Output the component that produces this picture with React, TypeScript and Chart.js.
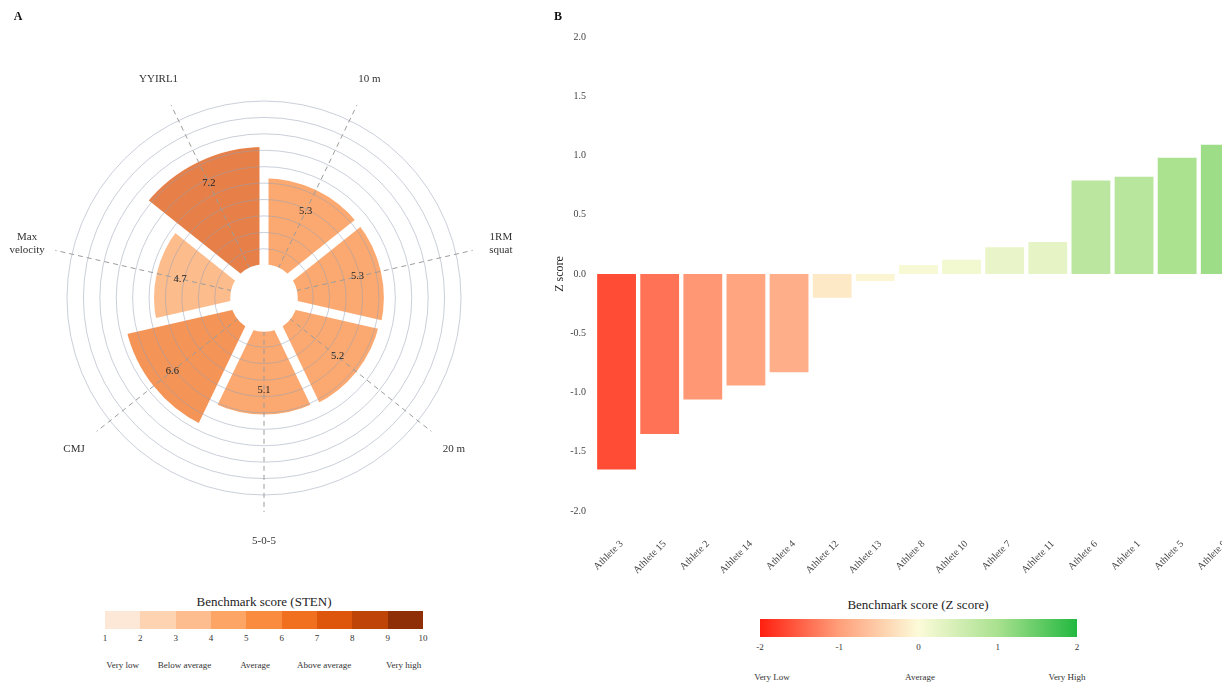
import React, { useEffect, useRef } from 'react';
import { Chart, registerables } from 'chart.js';

Chart.register(...registerables);

const SERIF = "'Liberation Serif', 'DejaVu Serif', serif";

// ---------- Panel A data (STEN) ----------
const POLAR_LABELS = ['10 m', '1RM\nsquat', '20 m', '5-0-5', 'CMJ', 'Max\nvelocity', 'YYIRL1'];
const POLAR_VALUES = [5.3, 5.3, 5.2, 5.1, 6.6, 4.7, 7.2];
const STEN_SCALE_MIN = -2;
const STEN_SCALE_MAX = 10;
const STEN_TICKS = [1, 2, 3, 4, 5, 6, 7, 8, 9, 10];
const STEN_COLORS = ['#fde7d6', '#fdd3b2', '#fdbd8e', '#fca565', '#fa8c40', '#f0701f', '#de560b', '#bf4408', '#8f2f08'];
const STEN_BANDS = ['Very low', 'Below average', 'Average', 'Above average', 'Very high'];
const STEN_BAND_POS = [1.5, 3.25, 5.25, 7.2, 9.45];

// ---------- Panel B data (Z score) ----------
const ATHLETES = ['Athlete 3', 'Athlete 15', 'Athlete 2', 'Athlete 14', 'Athlete 4', 'Athlete 12', 'Athlete 13', 'Athlete 8', 'Athlete 10', 'Athlete 7', 'Athlete 11', 'Athlete 6', 'Athlete 1', 'Athlete 5', 'Athlete 9'];
const Z_VALUES = [-1.65, -1.35, -1.06, -0.94, -0.83, -0.2, -0.06, 0.075, 0.12, 0.225, 0.27, 0.79, 0.82, 0.98, 1.09];
const Z_TICKS = [-2, -1, 0, 1, 2];
const Z_STOPS = ['#ff1f10', '#ff9f7a', '#fcfbd9', '#a9e18f', '#22b83f'];
const Z_BANDS = ['Very Low', 'Average', 'Very High'];

function hexToRgb(h: string) {
  const n = parseInt(h.slice(1), 16);
  return [(n >> 16) & 255, (n >> 8) & 255, n & 255];
}
function stenColor(v: number, a: number) {
  const idx = Math.max(0, Math.min(STEN_COLORS.length - 1, Math.floor(v) - 1));
  const [r, g, b] = hexToRgb(STEN_COLORS[idx]);
  return `rgba(${r},${g},${b},${a})`;
}
function zColor(v: number) {
  const t = Math.max(0, Math.min(Z_STOPS.length - 1, v - Z_TICKS[0]));
  const i = Math.min(Z_STOPS.length - 2, Math.floor(t));
  const f = t - i;
  const a = hexToRgb(Z_STOPS[i]);
  const b = hexToRgb(Z_STOPS[i + 1]);
  const c = a.map((x, k) => Math.round(x + (b[k] - x) * f));
  return `rgb(${c[0]},${c[1]},${c[2]})`;
}

const polarDecor = {
  id: 'polarDecor',
  afterDatasetsDraw(chart: any) {
    // white gaps between the wedges (drawn before the grid layer)
    const ctx = chart.ctx;
    const scale = chart.scales.r;
    const cx = scale.xCenter;
    const cy = scale.yCenter;
    const R = scale.drawingArea;
    const arcs = chart.getDatasetMeta(0).data;
    ctx.save();
    ctx.strokeStyle = '#ffffff';
    ctx.lineWidth = 9;
    ctx.lineCap = 'butt';
    arcs.forEach((a: any) => {
      const ang = a.startAngle;
      ctx.beginPath();
      ctx.moveTo(cx, cy);
      ctx.lineTo(cx + Math.cos(ang) * (R + 2), cy + Math.sin(ang) * (R + 2));
      ctx.stroke();
    });
    ctx.restore();
  },
  afterDraw(chart: any) {
    const ctx = chart.ctx;
    const scale = chart.scales.r;
    const cx = scale.xCenter;
    const cy = scale.yCenter;
    const R = scale.drawingArea;
    const r0 = scale.getDistanceFromCenterForValue(0);
    const arcs = chart.getDatasetMeta(0).data;
    ctx.save();
    // dashed spokes
    ctx.setLineDash([5, 4]);
    ctx.strokeStyle = '#9c9c9c';
    ctx.lineWidth = 1;
    arcs.forEach((a: any) => {
      const mid = (a.startAngle + a.endAngle) / 2;
      ctx.beginPath();
      ctx.moveTo(cx + Math.cos(mid) * r0, cy + Math.sin(mid) * r0);
      ctx.lineTo(cx + Math.cos(mid) * (R + 17), cy + Math.sin(mid) * (R + 17));
      ctx.stroke();
    });
    ctx.setLineDash([]);
    // hole
    ctx.fillStyle = '#ffffff';
    ctx.beginPath();
    ctx.arc(cx, cy, r0 + 1, 0, Math.PI * 2);
    ctx.fill();
    // value labels
    ctx.fillStyle = '#222';
    ctx.font = `10.5px ${SERIF}`;
    ctx.textAlign = 'center';
    ctx.textBaseline = 'middle';
    arcs.forEach((a: any, i: number) => {
      const mid = (a.startAngle + a.endAngle) / 2;
      const v = POLAR_VALUES[i];
      const rr = scale.getDistanceFromCenterForValue(v) - 24;
      ctx.fillText(v.toFixed(1), cx + Math.cos(mid) * rr, cy + Math.sin(mid) * rr);
    });
    // category labels
    ctx.fillStyle = '#333';
    ctx.font = `11px ${SERIF}`;
    arcs.forEach((a: any, i: number) => {
      const mid = (a.startAngle + a.endAngle) / 2;
      const lines = POLAR_LABELS[i].split('\n');
      const rr = R + 46;
      const x = cx + Math.cos(mid) * rr;
      const y = cy + Math.sin(mid) * rr;
      const lh = 13;
      lines.forEach((ln, k) => {
        ctx.fillText(ln, x, y + (k - (lines.length - 1) / 2) * lh);
      });
    });
    ctx.restore();
  },
};

function PolarChart() {
  const ref = useRef<HTMLCanvasElement>(null);
  useEffect(() => {
    const W = 540, H = 590, cx = 264, cy = 298, R = 197;
    const chart = new Chart(ref.current as HTMLCanvasElement, {
      type: 'polarArea',
      data: {
        labels: POLAR_LABELS,
        datasets: [{
          data: POLAR_VALUES,
          backgroundColor: POLAR_VALUES.map((v) => stenColor(v, 0.75)),
          borderWidth: 0,
        }],
      },
      options: {
        responsive: false,
        animation: false,
        layout: { padding: { left: cx - R, right: W - cx - R, top: cy - R, bottom: H - cy - R } },
        plugins: { legend: { display: false }, tooltip: { enabled: false } },
        scales: {
          r: {
            min: STEN_SCALE_MIN,
            max: STEN_SCALE_MAX,
            ticks: { display: false, stepSize: 1 },
            grid: { circular: true, color: 'rgba(150,160,180,0.5)', lineWidth: 1, z: 1 },
            angleLines: { display: false },
            pointLabels: { display: false },
          },
        },
      } as any,
      plugins: [polarDecor],
    });
    return () => chart.destroy();
  }, []);
  return <canvas ref={ref} width={540} height={590} style={{ position: 'absolute', left: 0, top: 0 }} />;
}

function BarChart() {
  const ref = useRef<HTMLCanvasElement>(null);
  useEffect(() => {
    const chart = new Chart(ref.current as HTMLCanvasElement, {
      type: 'bar',
      data: {
        labels: ATHLETES,
        datasets: [{
          data: Z_VALUES,
          backgroundColor: Z_VALUES.map(zColor),
          borderWidth: 0,
          barPercentage: 0.9,
          categoryPercentage: 1,
        }],
      },
      options: {
        responsive: false,
        animation: false,
        layout: { padding: { top: 37, right: 7, left: 0, bottom: 0 } },
        plugins: { legend: { display: false }, tooltip: { enabled: false } },
        scales: {
          x: {
            grid: { display: false, drawTicks: false },
            border: { display: false },
            ticks: {
              autoSkip: false,
              minRotation: 45,
              maxRotation: 45,
              padding: 27,
              labelOffset: 5,
              color: '#444',
              font: { family: SERIF, size: 10 },
            },
            afterFit: (s: any) => { s.height = 79; },
          },
          y: {
            min: -2,
            max: 2,
            grid: { display: false, drawTicks: false },
            border: { display: false },
            ticks: {
              stepSize: 0.5,
              padding: 9,
              color: '#444',
              font: { family: SERIF, size: 10 },
              callback: (v: any) => Number(v).toFixed(1),
            },
            title: {
              display: true,
              text: 'Z score',
              color: '#222',
              font: { family: SERIF, size: 12 },
              padding: { top: 13, bottom: 0 },
            },
            afterFit: (s: any) => { s.width = 55; },
          },
        },
      } as any,
    });
    return () => chart.destroy();
  }, []);
  return <canvas ref={ref} width={716} height={590} style={{ position: 'absolute', left: 540, top: 0 }} />;
}

const txt = (extra: React.CSSProperties): React.CSSProperties => ({
  position: 'absolute',
  fontFamily: SERIF,
  color: '#333',
  whiteSpace: 'nowrap',
  transform: 'translate(-50%, -50%)',
  lineHeight: 1,
  ...extra,
});

function StenLegend() {
  const x0 = 105, w = 318, y0 = 611, h = 18;
  const cw = w / STEN_COLORS.length;
  const xAt = (v: number) => x0 + (v - 1) * cw;
  return (
    <>
      <div style={txt({ left: 264, top: 601, fontSize: 13, color: '#222' })}>Benchmark score (STEN)</div>
      {STEN_COLORS.map((c, i) => (
        <div key={i} style={{ position: 'absolute', left: x0 + i * cw, top: y0, width: cw + 0.5, height: h, background: c }} />
      ))}
      {STEN_TICKS.map((t) => (
        <div key={t} style={txt({ left: xAt(t), top: 638, fontSize: 9 })}>{t}</div>
      ))}
      {STEN_BANDS.map((b, i) => (
        <div key={b} style={txt({ left: xAt(STEN_BAND_POS[i]), top: 665, fontSize: 9 })}>{b}</div>
      ))}
    </>
  );
}

function ZLegend() {
  const x0 = 760, w = 317;
  const xAt = (v: number) => x0 + ((v - Z_TICKS[0]) / (Z_TICKS[Z_TICKS.length - 1] - Z_TICKS[0])) * w;
  const grad = `linear-gradient(to right, ${Z_STOPS.join(', ')})`;
  return (
    <>
      <div style={txt({ left: 918, top: 604, fontSize: 13, color: '#222' })}>Benchmark score (Z score)</div>
      <div style={{ position: 'absolute', left: x0, top: 619, width: w, height: 18, background: grad }} />
      {Z_TICKS.map((t) => (
        <div key={t} style={txt({ left: xAt(t), top: 647, fontSize: 9 })}>{t}</div>
      ))}
      {Z_BANDS.map((b, i) => (
        <div key={b} style={txt({ left: [772, 920, 1067][i], top: 677, fontSize: 9 })}>{b}</div>
      ))}
    </>
  );
}

export default function App() {
  useEffect(() => {
    document.body.style.margin = '0';
  }, []);
  return (
    <div style={{ position: 'fixed', left: 0, top: 0, width: 1222, height: 683, overflow: 'hidden', background: '#fff' }}>
      <PolarChart />
      <BarChart />
      <div style={txt({ left: 18, top: 16, fontSize: 12, fontWeight: 'bold', color: '#111' })}>A</div>
      <div style={txt({ left: 558, top: 16, fontSize: 12, fontWeight: 'bold', color: '#111' })}>B</div>
      <StenLegend />
      <ZLegend />
    </div>
  );
}
